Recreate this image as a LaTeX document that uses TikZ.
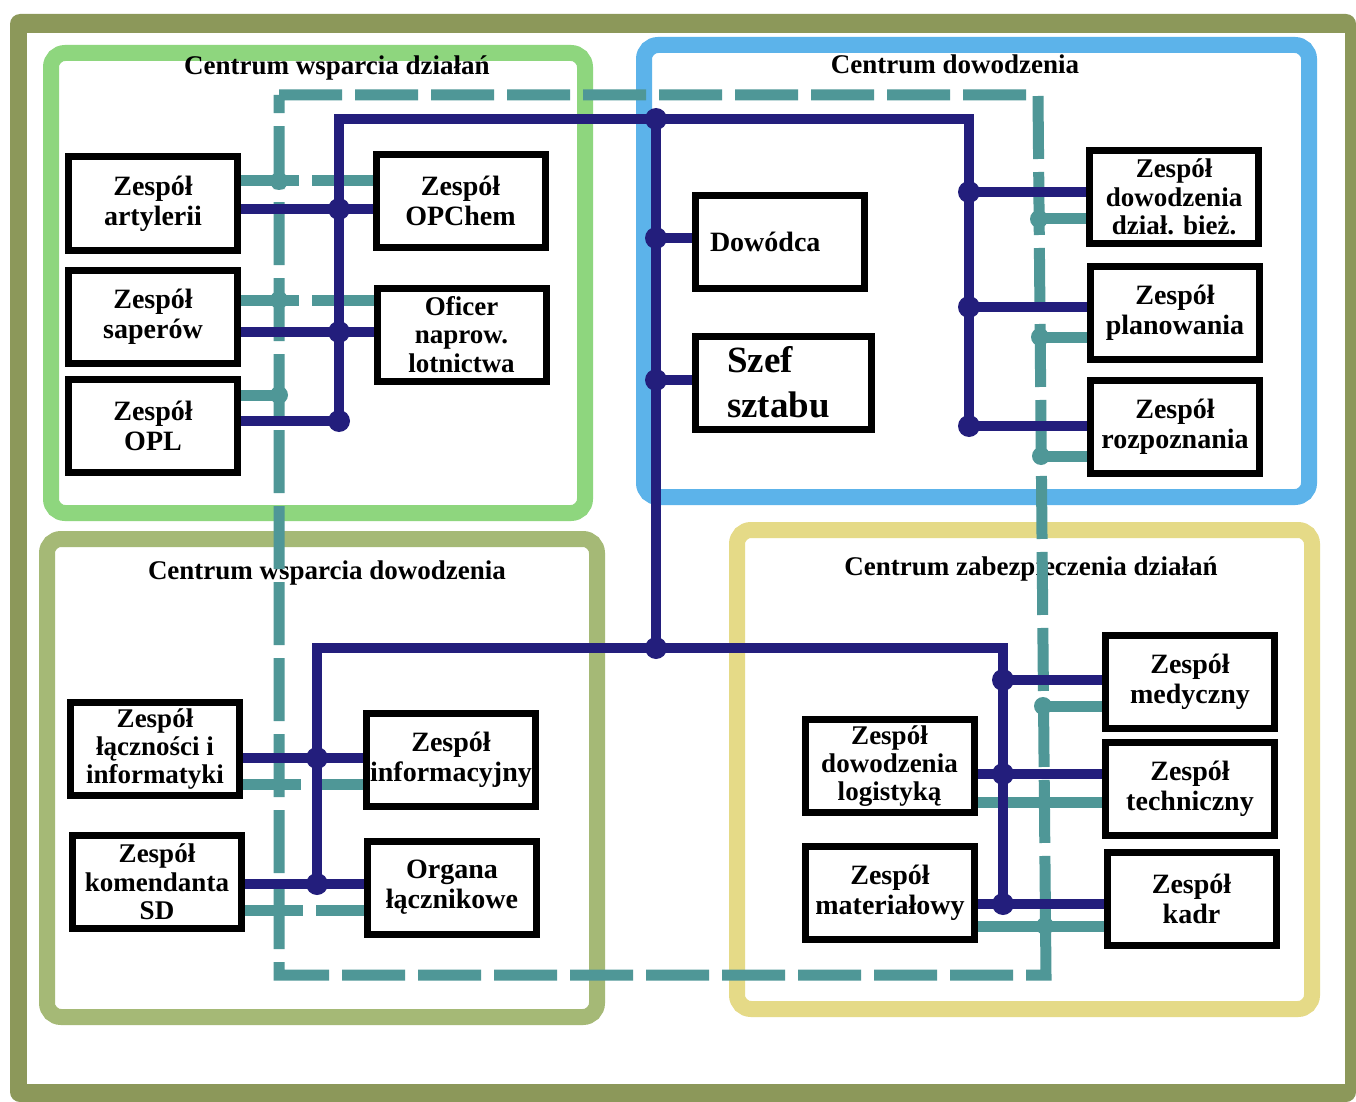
\documentclass[tikz,border=0pt]{standalone}
\usepackage{fontspec}
\setmainfont{Liberation Serif}
\usetikzlibrary{positioning}
\definecolor{frameolive}{HTML}{8C985A}
\definecolor{areagreen}{HTML}{8ED67E}
\definecolor{areablue}{HTML}{5CB3EA}
\definecolor{areaolive}{HTML}{A5B976}
\definecolor{areayellow}{HTML}{E5DA87}
\definecolor{navyline}{HTML}{231E7C}
\definecolor{tealline}{HTML}{4F9797}
\pgfdeclarelayer{bg}
\pgfsetlayers{bg,main}

\begin{document}
\begin{tikzpicture}[x=0.5pt,y=-0.5pt,
  team node/.style={rectangle,draw,line width=3.5pt,fill=white,
    minimum width=84.5pt,minimum height=46.5pt,inner xsep=0pt,inner ysep=1pt,
    align=center,font=\fontsize{14}{15}\selectfont\bfseries},
  three lines/.style={font=\fontsize{13.5}{14.2}\selectfont\bfseries},
  area/.style={line width=8pt,rounded corners=7pt},
  area title/.style={font=\fontsize{13.5}{15}\selectfont\bfseries},
  cmd line/.style={draw=navyline,line width=5pt},
  com line/.style={draw=tealline,line width=5.5pt},
  com gap/.style={dash pattern=on 29pt off 6.5pt on 200pt}]

  \useasboundingbox (0,0) rectangle (1356,1102);

  % teams, left column
  \node[team node] (art) at (153,203.5) {Zespół\\artylerii};
  \node[team node] (sap) at (153,317) {Zespół\\saperów};
  \node[team node] (opl) at (153,425.5) {Zespół\\OPL};
  \node[team node] (opchem) at (460.5,201) {Zespół\\OPChem};
  \node[team node,three lines] (ofic) at (461.5,334.5) {Oficer\\naprow.\\lotnictwa};
  \node[team node,three lines] (lacz) at (155,749) {Zespół\\łączności i\\informatyki};
  \node[team node,three lines] (kom) at (157,882) {Zespół\\komendanta\\SD};
  \node[team node] (inf) at (451,760) {Zespół\\informacyjny};
  \node[team node] (org) at (452,887.5) {Organa\\łącznikowe};

  % command
  \node[team node,align=left,text width=70pt,inner xsep=7.25pt] (dow) at (780,242) {Dowódca};
  \node[team node,align=left,text width=56.5pt,inner xsep=15.75pt,
    font=\fontsize{18.5}{22.5}\selectfont\bfseries] (szef) at (783.5,382.5) {Szef\\sztabu};

  % teams, right column
  \node[team node,three lines] (dzb) at (1174,197) {Zespół\\dowodzenia\\dział. bież.};
  \node[team node] (plan) at (1175,312.5) {Zespół\\planowania};
  \node[team node] (rozp) at (1175,427) {Zespół\\rozpoznania};
  \node[team node] (med) at (1190,681.5) {Zespół\\medyczny};
  \node[team node] (tech) at (1190,789) {Zespół\\techniczny};
  \node[team node] (kadr) at (1191.5,898.5) {Zespół\\kadr};
  \node[team node,three lines] (log) at (889.5,766) {Zespół\\dowodzenia\\logistyką};
  \node[team node] (mat) at (890,893) {Zespół\\materiałowy};

  \begin{pgfonlayer}{bg}
    \fill[frameolive,rounded corners=5pt] (10,14) rectangle (1356,1102);
    \fill[white] (27,33) rectangle (1345,1084);
    \draw[area,draw=areagreen] (51,53) rectangle (585,513);
    \draw[area,draw=areablue] (644,45) rectangle (1309,497);
    \draw[area,draw=areaolive] (47,539) rectangle (597,1017);
    \draw[area,draw=areayellow] (737,530) rectangle (1312,1009);

    \node[area title] (t1) at (337,68) {Centrum wsparcia działań};
    \node[area title] (t2) at (955,64) {Centrum dowodzenia};
    \node[area title] (t3) at (327,573) {Centrum wsparcia dowodzenia};
    \node[area title] (t4) at (1031,569) {Centrum zabezpieczenia działań};

    % communication net
    \coordinate (c1) at (279,95);
    \coordinate (c2) at (1038,95);
    \coordinate (c3) at (1046,975);
    \coordinate (c4) at (279,975);
    \draw[com line,dash pattern=on 31.5pt off 6.5pt] (c1) -- (c2) -- (c3) -- (c4) -- cycle;

    \coordinate (ta) at (279,181);
    \coordinate (tb) at (279,300);
    \coordinate (tc) at (279,395);
    \coordinate (td) at (279,784);
    \coordinate (te) at (279,910);
    \coordinate (tf) at (1039,219);
    \coordinate (tg) at (1040,337);
    \coordinate (th) at (1041,456);
    \coordinate (ti) at (1043,706);
    \coordinate (tj) at (1044,802);
    \coordinate (tk) at (1045,926);
    \draw[com line,com gap] (art.east |- ta) -- (opchem.west |- ta);
    \draw[com line,com gap] (sap.east |- tb) -- (ofic.west |- tb);
    \draw[com line] (opl.east |- tc) -- (tc);
    \draw[com line,com gap] (lacz.east |- td) -- (inf.west |- td);
    \draw[com line,com gap] (kom.east |- te) -- (org.west |- te);
    \draw[com line] (tf) -- (dzb.west |- tf);
    \draw[com line] (tg) -- (plan.west |- tg);
    \draw[com line] (th) -- (rozp.west |- th);
    \draw[com line] (ti) -- (med.west |- ti);
    \draw[com line] (log.east |- tj) -- (tech.west |- tj);
    \draw[com line] (mat.east |- tk) -- (kadr.west |- tk);
    \foreach \j in {ta,tb,tc,tf,tg,th,ti,tk}
      \fill[tealline] (\j) circle (4.5pt);

    % command net
    \coordinate (n0) at (656,119);
    \coordinate (nL) at (339,119);
    \coordinate (nR) at (969,119);
    \coordinate (n1) at (656,648);
    \coordinate (mL) at (317,648);
    \coordinate (mR) at (1003,648);
    \coordinate (ja) at (339,209);
    \coordinate (jb) at (339,332);
    \coordinate (jc) at (339,421);
    \coordinate (jd) at (656,238);
    \coordinate (je) at (656,380);
    \coordinate (jf) at (969,192);
    \coordinate (jg) at (969,307);
    \coordinate (jh) at (969,426);
    \coordinate (ji) at (317,758);
    \coordinate (jj) at (317,884);
    \coordinate (jk) at (1003,680);
    \coordinate (jl) at (1003,774);
    \coordinate (jm) at (1003,904);
    \draw[cmd line] (jc) -- (nL) -- (nR) -- (jh);
    \draw[cmd line] (n0) -- (n1);
    \draw[cmd line] (jj) -- (mL) -- (mR) -- (jm);
    \draw[cmd line] (art.east |- ja) -- (opchem.west |- ja);
    \draw[cmd line] (sap.east |- jb) -- (ofic.west |- jb);
    \draw[cmd line] (opl.east |- jc) -- (jc);
    \draw[cmd line] (jd) -- (dow.west |- jd);
    \draw[cmd line] (je) -- (szef.west |- je);
    \draw[cmd line] (jf) -- (dzb.west |- jf);
    \draw[cmd line] (jg) -- (plan.west |- jg);
    \draw[cmd line] (jh) -- (rozp.west |- jh);
    \draw[cmd line] (lacz.east |- ji) -- (inf.west |- ji);
    \draw[cmd line] (kom.east |- jj) -- (org.west |- jj);
    \draw[cmd line] (jk) -- (med.west |- jk);
    \draw[cmd line] (log.east |- jl) -- (tech.west |- jl);
    \draw[cmd line] (mat.east |- jm) -- (kadr.west |- jm);
    \foreach \j in {n0,n1,ja,jb,jc,jd,je,jf,jg,jh,ji,jj,jk,jl,jm}
      \fill[navyline] (\j) circle (5.5pt);
  \end{pgfonlayer}
\end{tikzpicture}
\end{document}
